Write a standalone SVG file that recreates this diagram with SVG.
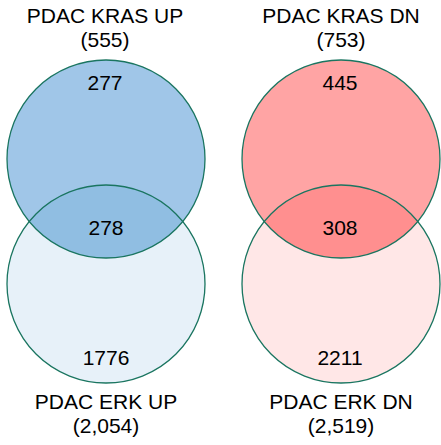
<svg xmlns="http://www.w3.org/2000/svg" width="441" height="445" viewBox="0 0 441 445">
<style>
text{font-family:"Liberation Sans",Arial,sans-serif;font-size:21px;fill:#000;text-anchor:middle}
.ring{fill:none;stroke:#1a7560;stroke-width:1.3}
</style>
<defs>
<clipPath id="cUp"><circle cx="106" cy="159" r="99"/></clipPath>
<clipPath id="cDn"><circle cx="341" cy="159" r="99"/></clipPath>
</defs>
<rect width="441" height="445" fill="#fff"/>
<g id="erk-up">
<circle cx="106" cy="284" r="99" fill="#e7f1f9"/>
</g>
<g id="kras-up">
<circle cx="106" cy="159" r="99" fill="#a0c6e8"/>
</g>
<g id="overlap-up">
<circle cx="106" cy="284" r="99" fill="#90bee2" clip-path="url(#cUp)"/>
</g>
<g id="erk-dn">
<circle cx="341" cy="284" r="99" fill="#ffe7e7"/>
</g>
<g id="kras-dn">
<circle cx="341" cy="159" r="99" fill="#ffa4a4"/>
</g>
<g id="overlap-dn">
<circle cx="341" cy="284" r="99" fill="#ff8f8f" clip-path="url(#cDn)"/>
</g>
<g id="outlines">
<circle class="ring" cx="106" cy="159" r="99"/>
<circle class="ring" cx="106" cy="284" r="99"/>
<circle class="ring" cx="341" cy="159" r="99"/>
<circle class="ring" cx="341" cy="284" r="99"/>
</g>
<g id="labels">
<text x="105" y="23">PDAC KRAS UP</text>
<text x="105" y="47">(555)</text>
<text x="105" y="90">277</text>
<text x="106" y="235">278</text>
<text x="106" y="365">1776</text>
<text x="106" y="409">PDAC ERK UP</text>
<text x="106" y="433">(2,054)</text>
<text x="341" y="23">PDAC KRAS DN</text>
<text x="341" y="47">(753)</text>
<text x="340" y="90">445</text>
<text x="340" y="235">308</text>
<text x="340" y="365">2211</text>
<text x="341" y="409">PDAC ERK DN</text>
<text x="341" y="433">(2,519)</text>
</g>
</svg>
